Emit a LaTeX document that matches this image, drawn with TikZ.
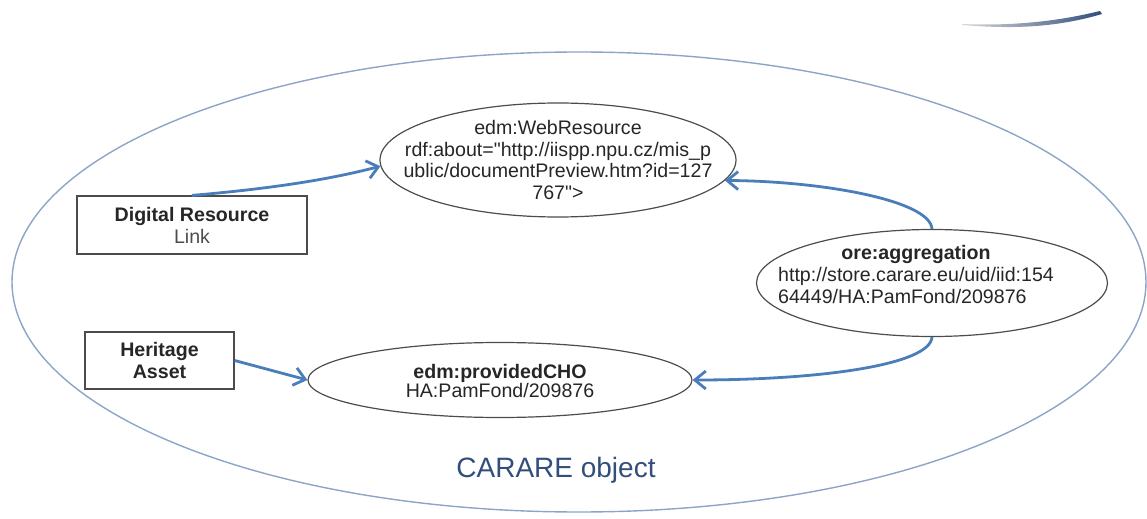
\documentclass[tikz,border=0pt]{standalone}
\usepackage{fontspec}
\setmainfont{Liberation Sans}[Ligatures=TeXOff]
\usepackage{tikz}
\usetikzlibrary {arrows.meta,
                 positioning,
                 shapes.geometric}
\definecolor{arrowblue}{RGB}{74,126,187}
\definecolor{rimblue}{RGB}{140,164,200}
\definecolor{titleblue}{RGB}{50,78,124}
\tikzset{
        base/.style={draw=black!70, line width=0.6pt, inner sep=0pt,
                     text=black!85, font=\fontsize{9.8}{10.9}\selectfont},
        box/.style={base, rectangle, align=center},
        bubble/.style={base, ellipse},
        txt/.style={align=center, inner sep=0pt, text=black!85,
                    font=\fontsize{9.8}{10.9}\selectfont},
        myarrow/.style={-{Straight Barb[length=5.5pt,width=9pt]},
                        line width=1.4pt, arrowblue},
 }

\begin{document}
\begin{tikzpicture}[x=0.5pt, y=-0.5pt]
    \useasboundingbox (0,0) rectangle (1147,519);
    % stray stroke, top right
    \shade[left color=gray!30, right color=titleblue]
        (962,24) .. controls (1010,26) and (1055,22) .. (1100,11)
        -- (1102,14) .. controls (1055,28) and (1010,29) .. (962,25) -- cycle;

    \node[draw=rimblue, ellipse, line width=0.7pt, inner sep=0pt,
          minimum width=567pt, minimum height=230pt] (obj) at (579,282) {};
    \node[titleblue, font=\fontsize{14}{16}\selectfont] (objname) at (556,470)
         {CARARE object};

    \node[bubble, minimum width=178pt, minimum height=57pt] (web) at (558,160) {};
    \node[txt] (webtext) at (web)
         {edm:WebResource\\ rdf:about="http://iispp.npu.cz/mis\_p\\
          ublic/documentPreview.htm?id=127\\ 767">};
    \node[bubble, minimum width=175.5pt, minimum height=53.5pt] (ore) at (932,283) {};
    \node[txt] (oretext) at (916,277)
         {\begin{tabular}{@{}l@{}}
          \multicolumn{1}{@{}c@{}}{\textbf{ore:aggregation}}\\
          http://store.carare.eu/uid/iid:154\\ 64449/HA:PamFond/209876
          \end{tabular}};
    \node[bubble, minimum width=192pt, minimum height=37.5pt] (cho) at (500,380) {};
    \node[txt] (chotext) at (500,381)
         {\textbf{edm:providedCHO}\\[-1.5pt] HA:PamFond/209876};
    \node[box, minimum width=115pt, minimum height=29pt] (dig) at (192,225)
         {\textbf{Digital Resource}\\ {\color{black!70}Link}};
    \node[box, minimum width=74.5pt, minimum height=28.5pt] (her) at (159.5,360.5)
         {\textbf{Heritage}\\ \textbf{Asset}};

    \draw[myarrow] (dig.north) .. controls (255,190) and (320,182) .. (web.182);
    \draw[myarrow] (ore.north) .. controls (930,200) and (820,181) .. (web.-7);
    \draw[myarrow] (ore.south) .. controls (930,365) and (820,380) .. (cho.east);
    \draw[myarrow] (her.east) -- (cho.west);

\end{tikzpicture}
\end{document}
